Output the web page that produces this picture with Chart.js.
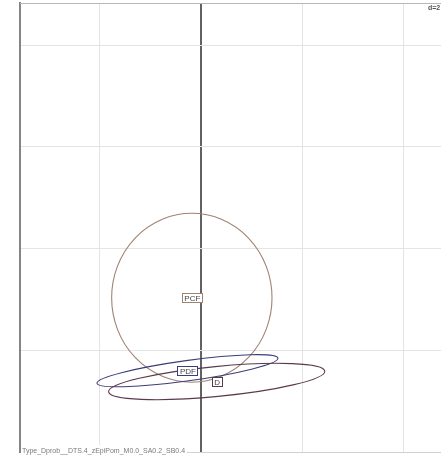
<!DOCTYPE html>
<html>
<head>
<meta charset="utf-8">
<script src="https://cdn.jsdelivr.net/npm/chart.js@4/dist/chart.umd.min.js"></script>
<style>
  html, body { margin: 0; padding: 0; background: #ffffff; }
  #wrap { width: 441px; height: 458px; }
</style>
</head>
<body>
<div id="wrap"><canvas id="c" width="441" height="458"></canvas></div>
<script>
// Shape names and labels
const shapeNames   = ['PCF', 'PDF', 'D'];
// Centres (data units)
const centerX      = [-0.09, -0.133, 0.155];
const centerY      = [0.516, -0.201, -0.307];
// Semi-axes along the rotated axes (data units)
const semiMajor    = [0.79, 0.90, 1.07];
const semiMinor    = [0.83, 0.10, 0.147];
// Tilt of the major axis, degrees counter-clockwise
const tiltDeg      = [0, 7.9, 5.5];
const shapeColors  = ['#a08272', '#3c3c7a', '#5a3a4c'];

// Axis extents and grid positions
const xRange = [-1.783, 2.365];
const yRange = [-1.0, 3.413];
const xTicks = [-1, 0, 1, 2];
const yTicks = [-1, 0, 1, 2, 3];

const caption = 'Type_Dprob__DTS.4_zEpiPom_M0.0_SA0.2_SB0.4';
const cornerText = 'd=2';

const datasets = shapeNames.map((n, i) => ({
  label: n,
  data: [{ x: centerX[i], y: centerY[i] }],
  pointRadius: 0,
  showLine: false,
  borderColor: shapeColors[i]
}));

const shapePlugin = {
  id: 'shapes',
  afterDatasetsDraw(chart) {
    const { ctx, chartArea: a, scales: { x, y } } = chart;
    ctx.save();
    ctx.beginPath();
    ctx.rect(a.left, a.top, a.right - a.left, a.bottom - a.top);
    ctx.clip();
    // outlines
    shapeNames.forEach((n, i) => {
      const px = x.getPixelForValue(centerX[i]);
      const py = y.getPixelForValue(centerY[i]);
      const rMaj = Math.abs(x.getPixelForValue(centerX[i] + semiMajor[i]) - px);
      const rMin = Math.abs(y.getPixelForValue(centerY[i] + semiMinor[i]) - py);
      ctx.beginPath();
      ctx.ellipse(px, py, rMaj, rMin, -tiltDeg[i] * Math.PI / 180, 0, Math.PI * 2);
      ctx.strokeStyle = shapeColors[i];
      ctx.lineWidth = 1.1;
      ctx.stroke();
    });
    // label boxes at the centres
    ctx.font = '8px "Liberation Sans", Arial, sans-serif';
    ctx.textAlign = 'center';
    ctx.textBaseline = 'middle';
    shapeNames.forEach((n, i) => {
      const px = x.getPixelForValue(centerX[i]);
      const py = y.getPixelForValue(centerY[i]);
      const w = ctx.measureText(n).width + 4;
      const h = 9;
      ctx.fillStyle = '#ffffff';
      ctx.fillRect(Math.round(px - w / 2) + 0.5, Math.round(py - h / 2) + 0.5, Math.round(w), h);
      ctx.strokeStyle = shapeColors[i];
      ctx.lineWidth = 1;
      ctx.strokeRect(Math.round(px - w / 2) + 0.5, Math.round(py - h / 2) + 0.5, Math.round(w), h);
      ctx.fillStyle = '#444444';
      ctx.fillText(n, px + 0.5, py + 1);
    });
    ctx.restore();
  },
  afterDraw(chart) {
    const { ctx, chartArea: a } = chart;
    ctx.save();
    // top frame line
    ctx.strokeStyle = '#b8b8b8';
    ctx.lineWidth = 1;
    ctx.beginPath();
    ctx.moveTo(a.left, a.top + 0.5);
    ctx.lineTo(a.right, a.top + 0.5);
    ctx.stroke();
    // corner note
    ctx.font = 'bold 7px "Liberation Sans", Arial, sans-serif';
    ctx.fillStyle = '#555555';
    ctx.textAlign = 'left';
    ctx.textBaseline = 'top';
    ctx.fillText(cornerText, 428, 5);
    // caption along the bottom edge
    ctx.font = '7px "Liberation Sans", Arial, sans-serif';
    const tw = ctx.measureText(caption).width;
    ctx.fillStyle = '#ffffff';
    ctx.fillRect(a.left + 1, a.bottom - 7, tw + 3, 9);
    ctx.fillStyle = '#7a7a7a';
    ctx.textBaseline = 'alphabetic';
    ctx.fillText(caption, a.left + 2, a.bottom + 0.5);
    ctx.restore();
  }
};

new Chart(document.getElementById('c'), {
  type: 'scatter',
  data: { datasets },
  options: {
    responsive: false,
    animation: false,
    devicePixelRatio: 1,
    layout: { padding: { left: 20, top: 3, right: 0, bottom: 6 } },
    plugins: { legend: { display: false }, tooltip: { enabled: false } },
    scales: {
      x: {
        type: 'linear',
        min: xRange[0],
        max: xRange[1],
        afterBuildTicks: s => { s.ticks = xTicks.map(v => ({ value: v })); },
        ticks: { display: false },
        grid: {
          drawTicks: false,
          color: c => c.tick && c.tick.value === 0 ? '#626262' : '#e4e4e4',
          lineWidth: c => c.tick && c.tick.value === 0 ? 2 : 1
        },
        border: { display: true, color: '#d0d0d0', width: 1 }
      },
      y: {
        type: 'linear',
        min: yRange[0],
        max: yRange[1],
        afterBuildTicks: s => { s.ticks = yTicks.map(v => ({ value: v })); },
        ticks: { display: false },
        grid: {
          drawTicks: false,
          color: '#e4e4e4',
          lineWidth: 1
        },
        border: { display: true, color: '#858585', width: 2 }
      }
    }
  },
  plugins: [shapePlugin]
});
</script>
</body>
</html>
